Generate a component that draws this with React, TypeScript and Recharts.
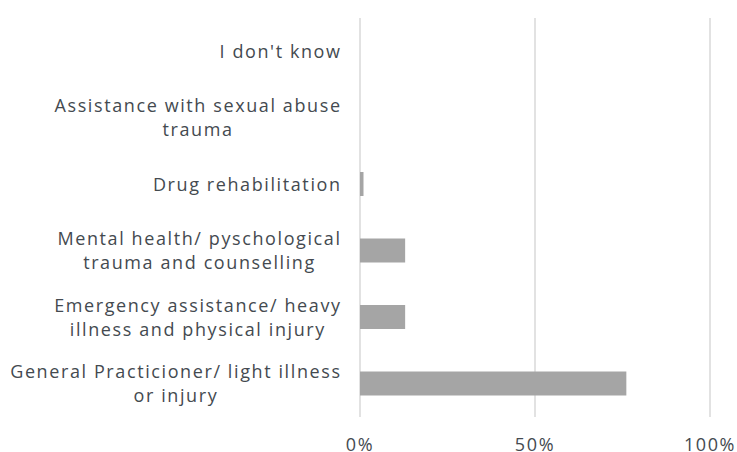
import React from "react";
import { BarChart, Bar, XAxis, YAxis, CartesianGrid } from "recharts";

const categories = [
  "I don't know",
  "Assistance with sexual abuse\ntrauma",
  "Drug rehabilitation",
  "Mental health/ pyschological\ntrauma and counselling",
  "Emergency assistance/ heavy\nillness and physical injury",
  "General Practicioner/ light illness\nor injury",
];
const shares = [0, 0, 1, 12.9, 12.9, 76.1];
const xTicks = [0, 50, 100];

const data = categories.map((name, i) => ({ name, value: shares[i] }));

const FONT = "'Open Sans', Lato, sans-serif";
const FONT_SIZE = 18;
const SPACING = 1.6;
const TEXT = "#444a50";

let ctx: CanvasRenderingContext2D | null = null;
function measure(s: string) {
  if (!ctx) ctx = document.createElement("canvas").getContext("2d");
  if (!ctx) return s.length * 9;
  ctx.font = `${FONT_SIZE}px ${FONT}`;
  return ctx.measureText(s).width + SPACING * s.length;
}

function CategoryTick(props: any) {
  const { x, y, payload } = props;
  const lines: string[] = String(payload.value).split("\n");
  const w = Math.max(...lines.map(measure));
  const right = x - 12 + SPACING;
  const cx = right - w / 2;
  const lh = 24;
  const top = y - ((lines.length - 1) * lh) / 2;
  return (
    <g>
      {lines.map((l, i) => (
        <text
          key={i}
          x={cx}
          y={top + i * lh}
          dy="0.35em"
          textAnchor="middle"
          fill={TEXT}
          fontFamily={FONT}
          fontSize={FONT_SIZE}
          letterSpacing={SPACING}
        >
          {l}
        </text>
      ))}
    </g>
  );
}

function PercentTick(props: any) {
  const { x, y, payload } = props;
  return (
    <text
      x={x}
      y={y + 20}
      dy="0.35em"
      textAnchor="middle"
      fill={TEXT}
      fontFamily={FONT}
      fontSize={FONT_SIZE}
      letterSpacing={SPACING}
    >
      {payload.value}%
    </text>
  );
}

export default function App() {
  return (
    <div style={{ position: "absolute", left: 0, top: 0, background: "#fff" }}>
      <BarChart
        width={737}
        height={452}
        data={data}
        layout="vertical"
        margin={{ top: 18, right: 27, bottom: 0, left: 0 }}
      >
        <CartesianGrid horizontal={false} stroke="#d9d9d9" strokeWidth={1.5} />
        <XAxis
          type="number"
          domain={[0, 100]}
          ticks={xTicks}
          axisLine={false}
          tickLine={false}
          tick={<PercentTick />}
          height={35}
          interval={0}
        />
        <YAxis
          type="category"
          dataKey="name"
          width={360}
          axisLine={false}
          tickLine={false}
          tick={<CategoryTick />}
          interval={0}
        />
        <Bar dataKey="value" fill="#a5a5a5" barSize={24} isAnimationActive={false} />
      </BarChart>
    </div>
  );
}
